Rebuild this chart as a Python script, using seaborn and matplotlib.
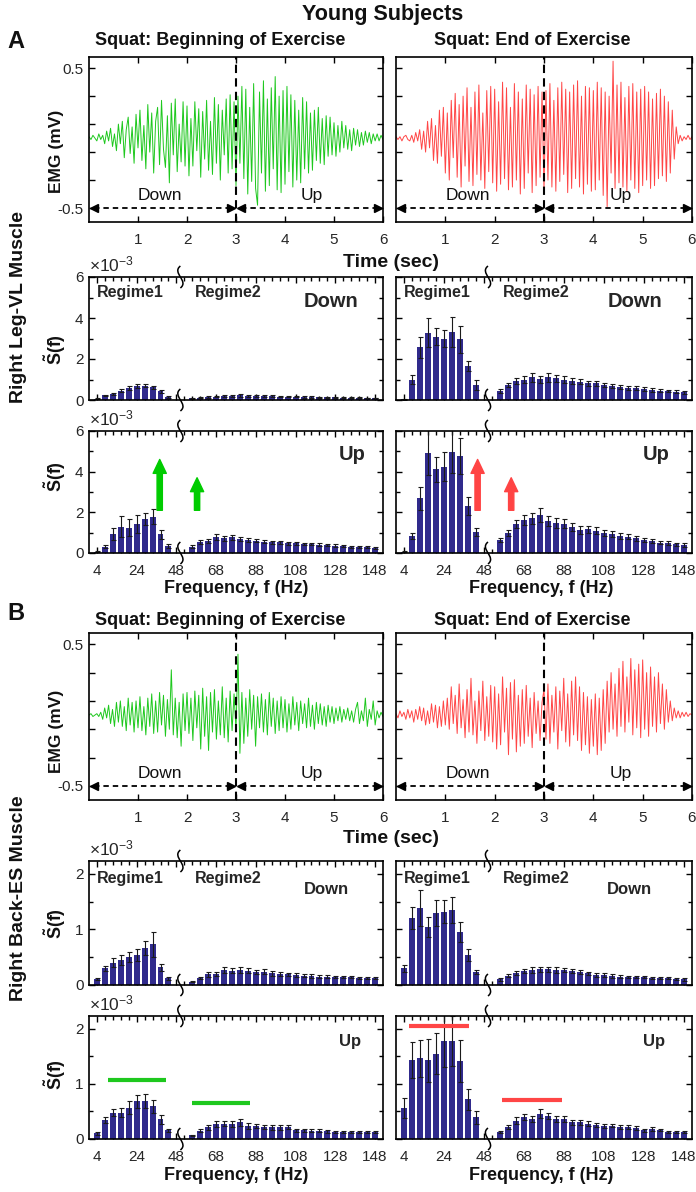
import numpy as np
import matplotlib
matplotlib.use('Agg')
import matplotlib.pyplot as plt
import seaborn as sns
from matplotlib.path import Path
from matplotlib.patches import PathPatch
from matplotlib.transforms import ScaledTranslation

W, H = 696, 1192

# ---------------- data ----------------
# EMG traces, sampled every 0.04 s from 0 to 6 s (mV)
t_emg = np.linspace(0, 6, 151)
emg_A_begin = [0.01, -0.01, 0.02, 0.0, -0.02, 0.03, -0.01, 0.02, -0.04, 0.05, -0.02, 0.07, -0.06,
               0.03, -0.09, 0.1, -0.04, 0.12, -0.14, 0.06, 0.15, -0.11, 0.08, -0.18, 0.17,
               -0.07, 0.2, -0.16, 0.09, -0.22, 0.24, -0.1, 0.18, -0.25, 0.12, 0.22, -0.19, 0.27,
               -0.08, -0.21, 0.16, -0.32, 0.25, -0.12, 0.28, -0.24, 0.1, -0.17, 0.26, -0.2,
               0.23, -0.27, 0.14, -0.2, 0.26, -0.09, 0.21, -0.28, 0.19, -0.15, 0.27, -0.23, 0.12,
               -0.26, 0.29, -0.18, 0.24, -0.3, 0.2, -0.12, 0.28, -0.25, 0.31, -0.22, 0.26,
               -0.34, 0.3, -0.18, 0.37, -0.29, 0.35, -0.4, 0.22, -0.31, 0.39, -0.36, -0.48, 0.33,
               -0.25, 0.41, -0.38, 0.28, -0.34, 0.36, -0.22, 0.44, -0.37, 0.3, -0.39, 0.34,
               -0.33, 0.37, -0.24, 0.31, -0.35, 0.27, -0.3, 0.2, -0.32, 0.29, -0.22, 0.26, -0.25,
               0.18, -0.23, 0.2, -0.16, 0.22, -0.18, 0.14, -0.19, 0.16, -0.13, 0.15, -0.12,
               0.11, -0.13, 0.09, -0.1, 0.12, -0.07, 0.09, -0.08, 0.06, -0.09, 0.07, -0.05, 0.06,
               -0.06, 0.04, -0.05, 0.05, -0.03, 0.04, -0.04, 0.03, -0.02, 0.03, -0.02, 0.02, -0.01]
emg_A_end = [0.01, -0.01, 0.01, -0.02, 0.01, 0.02, -0.01, -0.02, 0.02, -0.03, 0.04, -0.02, 0.06,
             -0.08, 0.05, -0.1, 0.12, -0.07, 0.14, -0.16, 0.09, -0.18, 0.2, -0.13, 0.22,
             -0.25, 0.18, -0.3, 0.27, -0.14, 0.32, -0.28, 0.24, -0.35, 0.3, -0.2, 0.36, -0.31,
             0.22, -0.34, 0.33, -0.26, 0.38, -0.3, 0.18, -0.36, 0.34, -0.24, 0.37, -0.32,
             0.35, -0.38, 0.26, -0.33, 0.4, -0.29, 0.36, -0.37, 0.22, -0.35, 0.39, -0.3, 0.33,
             -0.4, 0.28, -0.36, 0.38, -0.25, 0.35, -0.39, 0.31, -0.34, 0.37, -0.28, 0.33,
             -0.37, 0.34, -0.3, 0.39, -0.35, 0.27, -0.38, 0.36, -0.31, 0.4, -0.26, 0.35, -0.39,
             0.33, -0.36, 0.38, -0.29, 0.41, -0.35, 0.3, -0.4, 0.37, -0.33, 0.36, -0.38,
             0.34, -0.37, 0.4, -0.3, 0.36, -0.41, 0.33, -0.49, 0.3, -0.25, 0.55, -0.36, 0.38,
             -0.32, 0.4, -0.35, 0.29, -0.38, 0.37, -0.3, 0.39, -0.36, 0.33, -0.39, 0.35,
             -0.34, 0.37, -0.3, 0.33, -0.36, 0.28, -0.34, 0.32, -0.29, 0.35, -0.27, 0.3, -0.31,
             0.26, -0.25, 0.2, -0.15, 0.08, -0.04, 0.02, -0.02, 0.01, -0.01, 0.02, -0.01, 0.01]
emg_B_begin = [0.0, 0.01, -0.01, 0.0, 0.01, -0.01, 0.02, -0.03, 0.05, -0.02, 0.07, -0.06, 0.04,
               -0.08, 0.09, -0.05, 0.1, -0.08, 0.06, -0.11, 0.12, -0.07, 0.09, -0.12, 0.1,
               -0.09, 0.13, -0.11, 0.06, -0.14, 0.12, -0.08, 0.15, -0.13, 0.1, -0.12, 0.16, -0.07,
               0.14, -0.15, 0.11, -0.1, 0.32, -0.14, 0.12, -0.16, 0.09, -0.22, 0.15, -0.11,
               0.16, -0.13, 0.12, -0.18, 0.17, -0.09, 0.14, -0.24, 0.19, -0.15, 0.13, -0.25, 0.16,
               -0.12, 0.18, -0.17, 0.1, -0.14, 0.2, -0.16, 0.12, -0.19, 0.17, -0.11, 0.15,
               -0.1, 0.43, -0.27, 0.16, -0.2, 0.12, -0.15, 0.18, -0.1, 0.14, -0.22, 0.13, -0.09,
               0.15, -0.12, 0.11, -0.14, 0.16, -0.08, 0.12, -0.13, 0.1, -0.11, 0.13, -0.09,
               0.11, -0.12, 0.08, -0.1, 0.13, -0.07, 0.09, -0.11, 0.1, -0.06, 0.08, -0.09, 0.12,
               -0.08, 0.07, -0.1, 0.09, -0.06, 0.08, -0.07, 0.06, -0.08, 0.07, -0.05, 0.06,
               -0.06, 0.05, -0.04, 0.06, -0.05, 0.04, -0.03, 0.05, -0.04, 0.03, -0.05, 0.04, 0.09,
               -0.06, 0.03, -0.04, 0.12, -0.08, 0.04, -0.03, 0.1, -0.07, 0.03, -0.02, 0.02, -0.01]
emg_B_end = [0.01, -0.02, 0.03, -0.01, 0.02, -0.03, 0.04, -0.02, 0.03, -0.05, 0.04, -0.03, 0.06,
             -0.04, 0.05, -0.07, 0.03, -0.06, 0.08, -0.05, 0.07, -0.09, 0.06, -0.08, 0.1,
             -0.07, 0.12, -0.1, 0.2, -0.06, 0.14, -0.13, 0.22, -0.09, 0.11, -0.16, 0.18, -0.12,
             0.26, -0.14, 0.1, -0.2, 0.17, -0.11, 0.24, -0.18, 0.13, -0.15, 0.21, -0.19,
             0.2, -0.24, 0.15, -0.21, 0.27, -0.12, 0.19, -0.28, 0.23, -0.17, 0.25, -0.26, 0.14,
             -0.22, 0.18, -0.2, 0.21, -0.15, 0.12, -0.23, 0.16, -0.13, 0.1, -0.18, 0.09,
             0.18, -0.17, 0.22, -0.2, 0.14, -0.12, 0.2, -0.24, 0.17, -0.11, 0.26, -0.19, 0.15,
             -0.22, 0.24, -0.14, 0.27, -0.18, 0.2, -0.25, 0.16, -0.21, 0.13, -0.27, 0.11,
             -0.22, 0.15, -0.28, 0.12, -0.25, 0.18, -0.2, 0.24, -0.12, 0.3, -0.1, 0.22, -0.15,
             0.33, -0.08, 0.38, -0.12, 0.27, -0.05, 0.4, -0.14, 0.32, -0.09, 0.36, -0.16,
             0.39, -0.1, 0.3, -0.15, 0.34, -0.08, 0.27, -0.12, 0.3, -0.06, 0.22, -0.1, 0.18,
             -0.05, 0.1, -0.04, 0.05, -0.02, 0.03, -0.02, 0.02, -0.01, 0.02, -0.01, 0.01, 0.0]

# spectrum bins: regime 1 and regime 2 positions on the bin axis
pos_r1 = list(range(1, 11))
pos_r2 = list(range(13, 37))
freq_ticks = [1, 6, 11, 16, 21, 26, 31, 36]
freq_labels = ['4', '24', '48', '68', '88', '108', '128', '148']

# S(f) values (x 1e-3) and error bars
A_down_L_r1 = [0.06, 0.22, 0.3, 0.45, 0.58, 0.68, 0.7, 0.62, 0.42, 0.15]
A_down_L_e1 = [0.02, 0.04, 0.05, 0.07, 0.08, 0.1, 0.09, 0.08, 0.06, 0.03]
A_down_L_r2 = [0.08, 0.12, 0.15, 0.17, 0.2, 0.19, 0.22, 0.2, 0.21, 0.19, 0.18, 0.17,
               0.17, 0.16, 0.15, 0.15, 0.14, 0.13, 0.13, 0.12, 0.12, 0.11, 0.1, 0.1]
A_down_L_e2 = [0.03, 0.04, 0.04, 0.04, 0.05, 0.04, 0.05, 0.04, 0.04, 0.04, 0.04, 0.03,
               0.03, 0.03, 0.03, 0.03, 0.03, 0.03, 0.03, 0.02, 0.02, 0.02, 0.02, 0.02]
A_down_R_r1 = [0.03, 1.0, 2.57, 3.28, 3.09, 3.0, 3.33, 2.96, 1.66, 0.73]
A_down_R_e1 = [0.01, 0.2, 0.52, 0.7, 0.41, 0.42, 0.73, 0.65, 0.26, 0.24]
A_down_R_r2 = [0.45, 0.73, 0.94, 1.0, 1.1, 1.02, 1.1, 1.06, 1.0, 0.94, 0.9, 0.81,
               0.81, 0.73, 0.68, 0.62, 0.59, 0.57, 0.54, 0.49, 0.46, 0.44, 0.41, 0.37]
A_down_R_e2 = [0.1, 0.12, 0.15, 0.17, 0.2, 0.17, 0.2, 0.18, 0.16, 0.15, 0.14, 0.13,
               0.12, 0.11, 0.1, 0.1, 0.09, 0.09, 0.08, 0.08, 0.07, 0.07, 0.06, 0.06]
A_up_L_r1 = [0.07, 0.31, 0.93, 1.3, 1.25, 1.43, 1.66, 1.79, 0.92, 0.36]
A_up_L_e1 = [0.02, 0.06, 0.28, 0.5, 0.4, 0.44, 0.3, 0.36, 0.21, 0.1]
A_up_L_r2 = [0.31, 0.52, 0.59, 0.8, 0.72, 0.77, 0.69, 0.64, 0.61, 0.56, 0.52, 0.52,
             0.48, 0.48, 0.44, 0.44, 0.41, 0.39, 0.36, 0.35, 0.31, 0.31, 0.28, 0.26]
A_up_L_e2 = [0.08, 0.1, 0.1, 0.15, 0.12, 0.12, 0.1, 0.1, 0.09, 0.09, 0.08, 0.08,
             0.08, 0.07, 0.07, 0.07, 0.06, 0.06, 0.06, 0.05, 0.05, 0.05, 0.05, 0.04]
A_up_R_r1 = [0.07, 0.84, 2.69, 4.93, 4.11, 4.25, 4.98, 4.77, 2.33, 1.05]
A_up_R_e1 = [0.02, 0.16, 0.57, 1.1, 0.6, 0.7, 1.07, 0.87, 0.44, 0.2]
A_up_R_r2 = [0.64, 0.97, 1.41, 1.62, 1.7, 1.87, 1.59, 1.49, 1.43, 1.3, 1.13, 1.16,
             1.1, 0.97, 0.92, 0.84, 0.8, 0.72, 0.64, 0.59, 0.51, 0.48, 0.43, 0.39]
A_up_R_e2 = [0.12, 0.15, 0.2, 0.25, 0.25, 0.33, 0.25, 0.25, 0.22, 0.2, 0.18, 0.17,
             0.16, 0.15, 0.14, 0.13, 0.12, 0.11, 0.1, 0.1, 0.09, 0.09, 0.08, 0.08]

B_down_L_r1 = [0.11, 0.3, 0.4, 0.45, 0.51, 0.54, 0.67, 0.73, 0.32, 0.12]
B_down_L_e1 = [0.02, 0.05, 0.08, 0.09, 0.09, 0.1, 0.13, 0.22, 0.06, 0.03]
B_down_L_r2 = [0.06, 0.13, 0.19, 0.2, 0.27, 0.26, 0.27, 0.26, 0.23, 0.24, 0.21, 0.2,
               0.19, 0.18, 0.17, 0.16, 0.15, 0.15, 0.14, 0.14, 0.14, 0.13, 0.12, 0.12]
B_down_L_e2 = [0.01, 0.02, 0.04, 0.04, 0.05, 0.05, 0.05, 0.05, 0.04, 0.04, 0.04, 0.04,
               0.03, 0.03, 0.03, 0.03, 0.03, 0.03, 0.02, 0.02, 0.02, 0.02, 0.02, 0.02]
B_down_R_r1 = [0.3, 1.2, 1.39, 1.04, 1.29, 1.32, 1.35, 0.96, 0.54, 0.23]
B_down_R_e1 = [0.06, 0.2, 0.32, 0.18, 0.23, 0.21, 0.24, 0.18, 0.11, 0.04]
B_down_R_r2 = [0.1, 0.17, 0.22, 0.25, 0.27, 0.28, 0.28, 0.27, 0.27, 0.25, 0.23, 0.21,
               0.18, 0.18, 0.16, 0.15, 0.15, 0.14, 0.14, 0.13, 0.12, 0.12, 0.11, 0.1]
B_down_R_e2 = [0.02, 0.03, 0.04, 0.04, 0.05, 0.05, 0.05, 0.05, 0.04, 0.04, 0.04, 0.03,
               0.03, 0.03, 0.03, 0.03, 0.02, 0.02, 0.02, 0.02, 0.02, 0.02, 0.02, 0.02]
B_up_L_r1 = [0.1, 0.34, 0.48, 0.48, 0.57, 0.68, 0.69, 0.59, 0.36, 0.16]
B_up_L_e1 = [0.02, 0.05, 0.06, 0.08, 0.12, 0.12, 0.13, 0.11, 0.08, 0.03]
B_up_L_r2 = [0.07, 0.15, 0.21, 0.27, 0.28, 0.27, 0.3, 0.24, 0.24, 0.22, 0.21, 0.21,
             0.22, 0.16, 0.16, 0.15, 0.15, 0.14, 0.13, 0.13, 0.12, 0.12, 0.12, 0.13]
B_up_L_e2 = [0.01, 0.03, 0.04, 0.05, 0.05, 0.05, 0.06, 0.05, 0.04, 0.04, 0.04, 0.04,
             0.04, 0.03, 0.03, 0.03, 0.03, 0.03, 0.02, 0.02, 0.02, 0.02, 0.02, 0.02]
B_up_R_r1 = [0.56, 1.43, 1.46, 1.43, 1.55, 1.78, 1.78, 1.41, 0.72, 0.39]
B_up_R_e1 = [0.18, 0.32, 0.34, 0.39, 0.37, 0.47, 0.45, 0.38, 0.19, 0.12]
B_up_R_r2 = [0.13, 0.22, 0.33, 0.4, 0.36, 0.46, 0.42, 0.36, 0.36, 0.3, 0.3, 0.28,
             0.25, 0.24, 0.24, 0.22, 0.22, 0.2, 0.16, 0.18, 0.16, 0.13, 0.13, 0.13]
B_up_R_e2 = [0.02, 0.04, 0.06, 0.06, 0.05, 0.08, 0.06, 0.05, 0.05, 0.04, 0.04, 0.04,
             0.04, 0.04, 0.03, 0.03, 0.03, 0.03, 0.03, 0.03, 0.02, 0.02, 0.02, 0.02]

GREEN = '#1ec81e'
RED = '#ff4646'
BAR = '#302a8c'

# ---------------- style ----------------
sns.set_style('ticks')
plt.rcParams['font.family'] = ['Liberation Sans', 'DejaVu Sans']
plt.rcParams['mathtext.fontset'] = 'custom'
plt.rcParams['mathtext.rm'] = 'Liberation Sans'
plt.rcParams['mathtext.it'] = 'Liberation Sans:italic'
plt.rcParams['mathtext.bf'] = 'Liberation Sans:bold'

fig = plt.figure(figsize=(W / 100, H / 100), dpi=100)


def box(x0, y0, x1, y1):
    return fig.add_axes([x0 / W, 1 - y1 / H, (x1 - x0) / W, (y1 - y0) / H])


def ftext(x, y, s, **kw):
    fig.text(x / W, 1 - y / H, s, **kw)


def style(ax, show_left):
    for sp in ax.spines.values():
        sp.set_visible(True)
        sp.set_linewidth(1.2)
        sp.set_color('k')
    ax.tick_params(which='both', direction='in', top=True, right=True, width=1,
                   color='k', labelcolor='#262626', labelsize=11)
    ax.tick_params(which='major', length=4)
    ax.tick_params(which='minor', length=3)
    ax.tick_params(axis='x', pad=8)
    ax.tick_params(axis='y', pad=4, labelleft=show_left)
    ax.set_xlabel('')
    ax.set_ylabel('')


def emg_panel(ax, sig, color, show_left):
    sns.lineplot(x=t_emg, y=sig, color=color, lw=0.7, estimator=None, sort=False, ax=ax)
    ax.axvline(3, color='k', ls=(0, (4, 2.5)), lw=1.5)
    for a, b in [(0.1, 2.9), (3.1, 5.9)]:
        ax.plot([a, b], [-0.5, -0.5], color='k', ls=(0, (3, 2.2)), lw=1.3)
        ax.plot([a], [-0.5], marker='<', color='k', ms=6, ls='none')
        ax.plot([b], [-0.5], marker='>', color='k', ms=6, ls='none')
    ax.text(1.45, -0.41, 'Down', ha='center', va='center', fontsize=12.5, color='#111111')
    ax.text(4.55, -0.41, 'Up', ha='center', va='center', fontsize=12.5, color='#111111')
    ax.set_xlim(0, 6)
    ax.set_ylim(-0.6, 0.58)
    ax.set_xticks([1, 2, 3, 4, 5, 6])
    ax.set_xticklabels(['1', '2', '3', '4', '5', '6'])
    ax.set_yticks([-0.5, -0.3, -0.1, 0.1, 0.3, 0.5])
    ax.set_yticklabels(['-0.5', '', '', '', '', '0.5'])
    style(ax, show_left)


def squiggle(ax, x, yf):
    verts = [(0, -0.11), (0.09, -0.04), (-0.09, 0.04), (0, 0.11)]
    codes = [Path.MOVETO, Path.CURVE4, Path.CURVE4, Path.CURVE4]
    tr = fig.dpi_scale_trans + ScaledTranslation(x, yf, ax.get_xaxis_transform())
    ax.add_patch(PathPatch(Path(verts, codes), transform=tr, fill=False, lw=1.1,
                           color='k', clip_on=False, zorder=5))


def bar_panel(ax, r1, e1, r2, e2, ymax, yticks, yminor, show_left, tag, tag_x, tag_y,
              tag_size, regime_y=None, exponent=False):
    pos = pos_r1 + pos_r2
    vals = r1 + r2
    errs = e1 + e2
    sns.barplot(x=pos, y=vals, native_scale=True, color=BAR, saturation=1, width=0.75,
                linewidth=0, errorbar=None, ax=ax)
    ax.errorbar(pos, vals, yerr=errs, fmt='none', ecolor='#1a1a1a', elinewidth=0.8,
                capsize=1.8, capthick=0.8)
    ax.set_xlim(0, 37)
    ax.set_ylim(0, ymax)
    ax.set_xticks(freq_ticks)
    ax.set_xticklabels(freq_labels)
    ax.set_xticks(range(1, 37), minor=True)
    ax.set_yticks(yticks)
    ax.set_yticklabels([str(v) for v in yticks])
    ax.set_yticks(yminor, minor=True)
    style(ax, show_left)
    xt = ax.get_xaxis_transform()
    if regime_y is not None:
        ax.text(0.95, regime_y, 'Regime1', transform=xt, ha='left', va='center',
                fontsize=11.5, weight='bold')
        ax.text(13.3, regime_y, 'Regime2', transform=xt, ha='left', va='center',
                fontsize=11.5, weight='bold')
    ax.text(tag_x, tag_y, tag, transform=xt, ha='left', va='center',
            fontsize=tag_size, weight='bold')
    if exponent:
        ax.text(0.0, 1.045, r'$\times10^{-3}$', transform=ax.transAxes, ha='left',
                va='baseline', fontsize=12.5, color='#262626')
    squiggle(ax, 11.5, 1.0)
    squiggle(ax, 11.5, 0.0)


def up_arrow(ax, x, y0, y1, color):
    ax.annotate('', xy=(x, y1), xytext=(x, y0),
                arrowprops=dict(arrowstyle='simple,head_length=1.0,head_width=0.95,tail_width=0.38',
                                color=color, mutation_scale=10, shrinkA=0, shrinkB=0))


# ---------------- panel A ----------------
LX0, LX1, RX0, RX1 = 89, 383, 396, 692

ax = box(LX0, 57, LX1, 222)
emg_panel(ax, emg_A_begin, GREEN, True)
ax = box(RX0, 57, RX1, 222)
emg_panel(ax, emg_A_end, RED, False)

ax = box(LX0, 277, LX1, 400)
bar_panel(ax, A_down_L_r1, A_down_L_e1, A_down_L_r2, A_down_L_e2, 6, [0, 2, 4, 6], [1, 3, 5],
          True, 'Down', 27.0, 0.8, 14.5, regime_y=0.87, exponent=True)
ax.tick_params(axis='x', labelbottom=False)
ax = box(RX0, 277, RX1, 400)
bar_panel(ax, A_down_R_r1, A_down_R_e1, A_down_R_r2, A_down_R_e2, 6, [0, 2, 4, 6], [1, 3, 5],
          False, 'Down', 26.4, 0.8, 14.5, regime_y=0.87)
ax.tick_params(axis='x', labelbottom=False)

ax = box(LX0, 431, LX1, 553)
bar_panel(ax, A_up_L_r1, A_up_L_e1, A_up_L_r2, A_up_L_e2, 6, [0, 2, 4, 6], [1, 3, 5],
          True, 'Up', 31.4, 0.81, 14.5, exponent=True)
up_arrow(ax, 8.9, 2.1, 4.6, '#00cc00')
up_arrow(ax, 13.6, 2.1, 3.7, '#00cc00')
ax = box(RX0, 431, RX1, 553)
bar_panel(ax, A_up_R_r1, A_up_R_e1, A_up_R_r2, A_up_R_e2, 6, [0, 2, 4, 6], [1, 3, 5],
          False, 'Up', 30.9, 0.81, 14.5)
up_arrow(ax, 10.2, 2.1, 4.6, '#ff4444')
up_arrow(ax, 14.4, 2.1, 3.7, '#ff4444')

# ---------------- panel B ----------------
ax = box(LX0, 633, LX1, 800)
emg_panel(ax, emg_B_begin, GREEN, True)
ax = box(RX0, 633, RX1, 800)
emg_panel(ax, emg_B_end, RED, False)

ax = box(LX0, 861, LX1, 985)
bar_panel(ax, B_down_L_r1, B_down_L_e1, B_down_L_r2, B_down_L_e2, 2.23, [0, 1, 2], [0.5, 1.5],
          True, 'Down', 27.1, 0.77, 12, regime_y=0.855, exponent=True)
ax.tick_params(axis='x', labelbottom=False)
ax = box(RX0, 861, RX1, 985)
bar_panel(ax, B_down_R_r1, B_down_R_e1, B_down_R_r2, B_down_R_e2, 2.23, [0, 1, 2], [0.5, 1.5],
          False, 'Down', 26.4, 0.77, 12, regime_y=0.855)
ax.tick_params(axis='x', labelbottom=False)

ax = box(LX0, 1016, LX1, 1139)
bar_panel(ax, B_up_L_r1, B_up_L_e1, B_up_L_r2, B_up_L_e2, 2.23, [0, 1, 2], [0.5, 1.5],
          True, 'Up', 31.4, 0.79, 12, exponent=True)
ax.plot([2.4, 9.75], [1.07, 1.07], color=GREEN, lw=3, solid_capstyle='butt')
ax.plot([12.9, 20.2], [0.65, 0.65], color=GREEN, lw=3, solid_capstyle='butt')
ax = box(RX0, 1016, RX1, 1139)
bar_panel(ax, B_up_R_r1, B_up_R_e1, B_up_R_r2, B_up_R_e2, 2.23, [0, 1, 2], [0.5, 1.5],
          False, 'Up', 30.9, 0.79, 12)
ax.plot([1.6, 9.1], [2.05, 2.05], color=RED, lw=3, solid_capstyle='butt')
ax.plot([13.25, 20.75], [0.7, 0.7], color=RED, lw=3, solid_capstyle='butt')

# ---------------- figure texts ----------------
bold = dict(weight='bold', color='#111111')
ftext(383, 20, 'Young Subjects', ha='center', va='baseline', fontsize=15.5, **bold)
ftext(7, 48, 'A', ha='left', va='baseline', fontsize=17, **bold)
ftext(7, 620, 'B', ha='left', va='baseline', fontsize=17, **bold)
for yb in (45, 625):
    ftext(220, yb, 'Squat: Beginning of Exercise', ha='center', va='baseline', fontsize=13, **bold)
    ftext(532, yb, 'Squat: End of Exercise', ha='center', va='baseline', fontsize=13, **bold)
for yb in (267, 843):
    ftext(391, yb, 'Time (sec)', ha='center', va='baseline', fontsize=14, **bold)
for yb in (593, 1180):
    ftext(236, yb, 'Frequency, f (Hz)', ha='center', va='baseline', fontsize=13, **bold)
    ftext(541, yb, 'Frequency, f (Hz)', ha='center', va='baseline', fontsize=13, **bold)
for yc in (151, 731):
    ftext(57, yc, 'EMG (mV)', ha='center', va='center', rotation=90, fontsize=12.5, **bold)
for yc in (350, 477, 924, 1075):
    ftext(55, yc, r'$\mathbf{\tilde{S}(f)}$', ha='center', va='center', rotation=90,
          fontsize=13, color='#111111')
ftext(19, 307, 'Right Leg-VL Muscle', ha='center', va='center', rotation=90, fontsize=14, **bold)
ftext(19, 898, 'Right Back-ES Muscle', ha='center', va='center', rotation=90, fontsize=14, **bold)

fig.savefig('out.png', dpi=100)
